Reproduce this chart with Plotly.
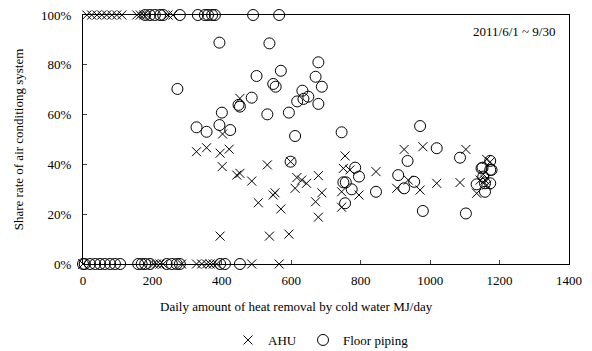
import plotly.graph_objects as go

# AHU (x) data
ahu_x = [11, 25, 40, 54, 68, 83, 97, 112, 155, 165, 175, 183, 245, 259,
         0, 0, 203, 212, 222, 231, 284, 327, 342, 356, 366, 375, 385, 486, 565,
         327, 356, 395, 421, 402, 401, 443, 452, 486, 505, 452, 395,
         531, 598, 755, 750, 769, 844, 616, 630, 644, 678, 611, 553, 548, 688, 745, 795,
         670, 570, 678, 745, 537, 593, 904,
         925, 979, 1103, 937, 971, 1019, 1086, 1163, 1173, 1153, 1144, 1158, 1134, 1163]
ahu_y = [100, 100, 100, 100, 100, 100, 100, 100, 100, 100, 100, 100, 100, 100,
         0, 0, 0, 0, 0, 0, 0, 0, 0, 0, 0, 0, 0, 0, 0,
         45.1, 46.7, 44.5, 46.1, 52.2, 39.1, 35.7, 36.4, 33.3, 24.6, 66.5, 11.2,
         39.8, 41.1, 43.4, 38.4, 37.8, 37.1, 34.7, 33.7, 32.4, 35.5, 30.4, 28.6, 27.7, 28.6, 29.0, 27.7,
         25.0, 22.1, 18.8, 22.8, 11.2, 12.0, 30.4,
         46.0, 47.1, 46.0, 33.7, 29.7, 32.4, 32.7, 42.0, 41.0, 36.0, 33.7, 33.7, 28.4, 31.7]

# Floor piping (o) data
floor_x = [179, 193, 207, 222, 231, 279, 331, 351, 360, 372, 380, 490, 565,
           0, 5, 20, 35, 49, 63, 78, 92, 107, 159, 169, 179, 193, 241, 256, 270, 279, 395, 409, 452,
           272, 393, 400, 327, 356, 393, 424, 448, 452, 486, 500, 537, 678, 570, 670, 548, 555,
           688, 632, 649, 635, 617, 678, 531, 593, 611, 745, 598, 784, 795, 750, 757, 774, 844,
           755, 908, 971, 1019, 935, 1086, 925, 954, 979, 1103, 1151, 1173, 1173, 1134, 1158,
           1173, 1158, 1153, 1148, 1177]
floor_y = [100, 100, 100, 100, 100, 100, 100, 100, 100, 100, 100, 100, 100,
           0, 0, 0, 0, 0, 0, 0, 0, 0, 0, 0, 0, 0, 0, 0, 0, 0, 0, 0, 0,
           70.3, 88.9, 60.8, 54.9, 53.1, 55.8, 53.8, 63.9, 63.2, 66.8, 75.5, 88.6, 81.0, 77.6, 75.2, 72.3, 71.2,
           71.2, 69.6, 67.2, 66.3, 65.3, 64.3, 60.1, 60.8, 51.4, 52.9, 41.1, 38.7, 35.1, 32.8, 32.8, 30.0, 29.0,
           24.4, 35.7, 55.4, 46.5, 41.4, 42.7, 30.4, 33.0, 21.3, 20.3, 38.7, 37.8, 41.4, 32.0, 32.4,
           32.4, 29.0, 35.1, 38.4, 37.8]

x_ticks = [0, 200, 400, 600, 800, 1000, 1200, 1400]
y_ticks = [0, 20, 40, 60, 80, 100]
y_ticktext = ["0%", "20%", "40%", "60%", "80%", "100%"]

FONT = "Liberation Serif"
TF = dict(family=FONT, size=13, color="black")

fig = go.Figure()
fig.add_trace(go.Scatter(
    x=ahu_x, y=ahu_y, mode="markers", name="AHU", legendwidth=30,
    marker=dict(symbol="x-thin-open", size=9, color="black",
                line=dict(color="black", width=1)),
    cliponaxis=False,
))
fig.add_trace(go.Scatter(
    x=floor_x, y=floor_y, mode="markers", name="Floor piping", legendwidth=76,
    marker=dict(symbol="circle-open", size=11, color="black",
                line=dict(color="black", width=1)),
    cliponaxis=False,
))

fig.update_layout(
    width=592, height=351,
    margin=dict(l=83, r=23, t=15, b=87, autoexpand=False),
    paper_bgcolor="white", plot_bgcolor="white",
    font=TF,
    showlegend=True,
    legend=dict(orientation="h", x=0.5, xanchor="center",
                yref="paper", y=-0.245, yanchor="top",
                font=TF, itemwidth=30, tracegroupgap=0,
                bgcolor="rgba(0,0,0,0)"),
    xaxis=dict(range=[0, 1400], tickvals=x_ticks, ticks="inside", ticklen=4,
               tickfont=TF, automargin=False, ticklabelstandoff=4,
               showline=True, linecolor="black", linewidth=1, mirror=True,
               showgrid=False, zeroline=False),
    yaxis=dict(range=[0, 100], tickvals=y_ticks, ticktext=y_ticktext, ticks="inside", ticklen=4,
               tickfont=TF, automargin=False, ticklabelstandoff=8,
               showline=True, linecolor="black", linewidth=1, mirror=True,
               showgrid=False, zeroline=False,
               title=dict(text="Share rate of air conditiong system",
                          font=TF, standoff=14)),
    annotations=[
        dict(text="2011/6/1 ~ 9/30", xref="paper", yref="paper",
             x=0.975, y=0.97, xanchor="right", yanchor="top", showarrow=False,
             font=TF),
        dict(text="Daily amount of heat removal by cold water MJ/day",
             xref="paper", yref="paper", x=0.44, y=-0.172,
             xanchor="center", yanchor="middle", showarrow=False, font=TF),
    ],
)

fig.write_html("out.html")
